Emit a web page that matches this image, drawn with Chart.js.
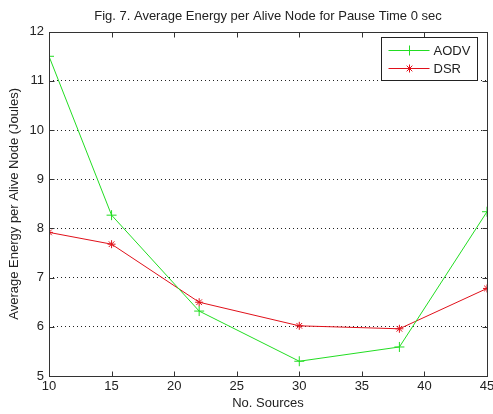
<!DOCTYPE html>
<html>
<head>
<meta charset="utf-8">
<script src="https://cdn.jsdelivr.net/npm/chart.js@4.4.1/dist/chart.umd.min.js"></script>
<style>
  html, body { margin: 0; padding: 0; background: #fff; }
  #wrap { width: 493px; height: 414px; position: relative; }
</style>
</head>
<body>
<div id="wrap"><canvas id="energy"></canvas></div>
<script>
const sources = [10, 15, 22, 30, 38, 45];
const aodvEnergy = [11.5, 8.27, 6.32, 5.3, 5.59, 8.34];
const dsrEnergy = [7.92, 7.68, 6.5, 6.02, 5.96, 6.78];

const toPoints = (xs, ys) => xs.map((x, i) => ({ x: x, y: ys[i] }));

Chart.defaults.color = "#222";
Chart.defaults.font.family = "'Liberation Sans', Arial, sans-serif";
Chart.defaults.font.size = 13;

// matlab style box: frame, inward ticks, legend inside the axes
const matlabBox = {
	id: "matlabBox",
	afterDatasetsDraw(chart) {
		const c = chart.ctx;
		const a = chart.chartArea;
		const xs = chart.scales.x;
		const ys = chart.scales.y;
		const L = Math.round(a.left) + 0.5;
		const R = Math.round(a.right) + 0.5;
		const T = Math.round(a.top) + 0.5;
		const B = Math.round(a.bottom) + 0.5;
		const tick = 5;

		c.save();
		c.strokeStyle = "#333";
		c.lineWidth = 1;
		c.setLineDash([]);
		c.strokeRect(L, T, R - L, B - T);

		c.beginPath();
		xs.ticks.forEach(t => {
			const px = Math.round(xs.getPixelForValue(t.value)) + 0.5;
			c.moveTo(px, B); c.lineTo(px, B - tick);
			c.moveTo(px, T); c.lineTo(px, T + tick);
		});
		ys.ticks.forEach(t => {
			const py = Math.round(ys.getPixelForValue(t.value)) + 0.5;
			c.moveTo(L, py); c.lineTo(L + tick, py);
			c.moveTo(R, py); c.lineTo(R - tick, py);
		});
		c.stroke();

		// legend
		const bw = 96, bh = 43;
		const bx = Math.round(a.right - 10 - bw) + 0.5;
		const by = Math.round(a.top + 5) + 0.5;
		c.fillStyle = "#fff";
		c.fillRect(bx, by, bw, bh);
		c.strokeStyle = "#222";
		c.strokeRect(bx, by, bw, bh);

		chart.data.datasets.forEach((ds, i) => {
			const ry = Math.round(by + 12 + i * 18.5) + 0.5;
			c.strokeStyle = ds.borderColor;
			c.lineWidth = 1;
			c.beginPath();
			c.moveTo(bx + 7, ry);
			c.lineTo(bx + 48, ry);
			c.stroke();
			Chart.helpers.drawPoint(c, {
				pointStyle: ds.pointStyle,
				radius: ds.pointRadius,
				borderWidth: 1
			}, bx + 28, ry);
			c.fillStyle = "#222";
			c.font = "13px 'Liberation Sans', Arial, sans-serif";
			c.textBaseline = "middle";
			c.textAlign = "left";
			c.fillText(ds.label, bx + 52, ry + 0.5);
		});
		c.restore();
	}
};

new Chart(document.getElementById("energy"), {
	type: "scatter",
	data: {
		datasets: [{
			label: "AODV",
			data: toPoints(sources, aodvEnergy),
			showLine: true,
			borderColor: "#22dd22",
			backgroundColor: "#22dd22",
			borderWidth: 1,
			pointStyle: "cross",
			pointRadius: 5,
			pointBorderWidth: 1,
		}, {
			label: "DSR",
			data: toPoints(sources, dsrEnergy),
			showLine: true,
			borderColor: "#e0101a",
			backgroundColor: "#e0101a",
			borderWidth: 1,
			pointStyle: "star",
			pointRadius: 4,
			pointBorderWidth: 1,
		}],
	},
	options: {
		responsive: true,
		maintainAspectRatio: false,
		animation: false,
		layout: {
			padding: { left: 0, right: 5, top: 0, bottom: 0 },
		},
		plugins: {
			legend: { display: false },
			tooltip: { enabled: false },
			title: {
				display: true,
				fullSize: false,
				text: "Fig. 7. Average Energy per Alive Node for Pause Time 0 sec",
				color: "#222",
				padding: { top: 9, bottom: 7.1 },
				font: { size: 13, weight: "normal" },
			},
		},
		scales: {
			x: {
				type: "linear",
				min: 10,
				max: 45,
				afterFit: s => { s.height = 38; s.paddingLeft = 0; s.paddingRight = 0; },
				ticks: { stepSize: 5, padding: 3, maxRotation: 0 },
				grid: { display: false, drawTicks: false },
				border: { display: false },
				title: {
					display: true,
					text: "No. Sources",
					padding: { top: 0, bottom: 2.7 },
				},
			},
			y: {
				min: 5,
				max: 12,
				afterFit: s => { s.width = 49; s.paddingTop = 0; s.paddingBottom = 0; },
				ticks: { stepSize: 1, padding: 5 },
				grid: {
					drawTicks: false,
					lineWidth: 1,
					color: c => (c.tick && (c.tick.value === 5 || c.tick.value === 12)) ? "rgba(0,0,0,0)" : "#222",
				},
				border: { display: false, dash: [1, 3] },
				title: {
					display: true,
					text: "Average Energy per Alive Node (Joules)",
					padding: { top: 6.7, bottom: 0 },
				},
			},
		},
	},
	plugins: [matlabBox],
});
</script>
</body>
</html>
